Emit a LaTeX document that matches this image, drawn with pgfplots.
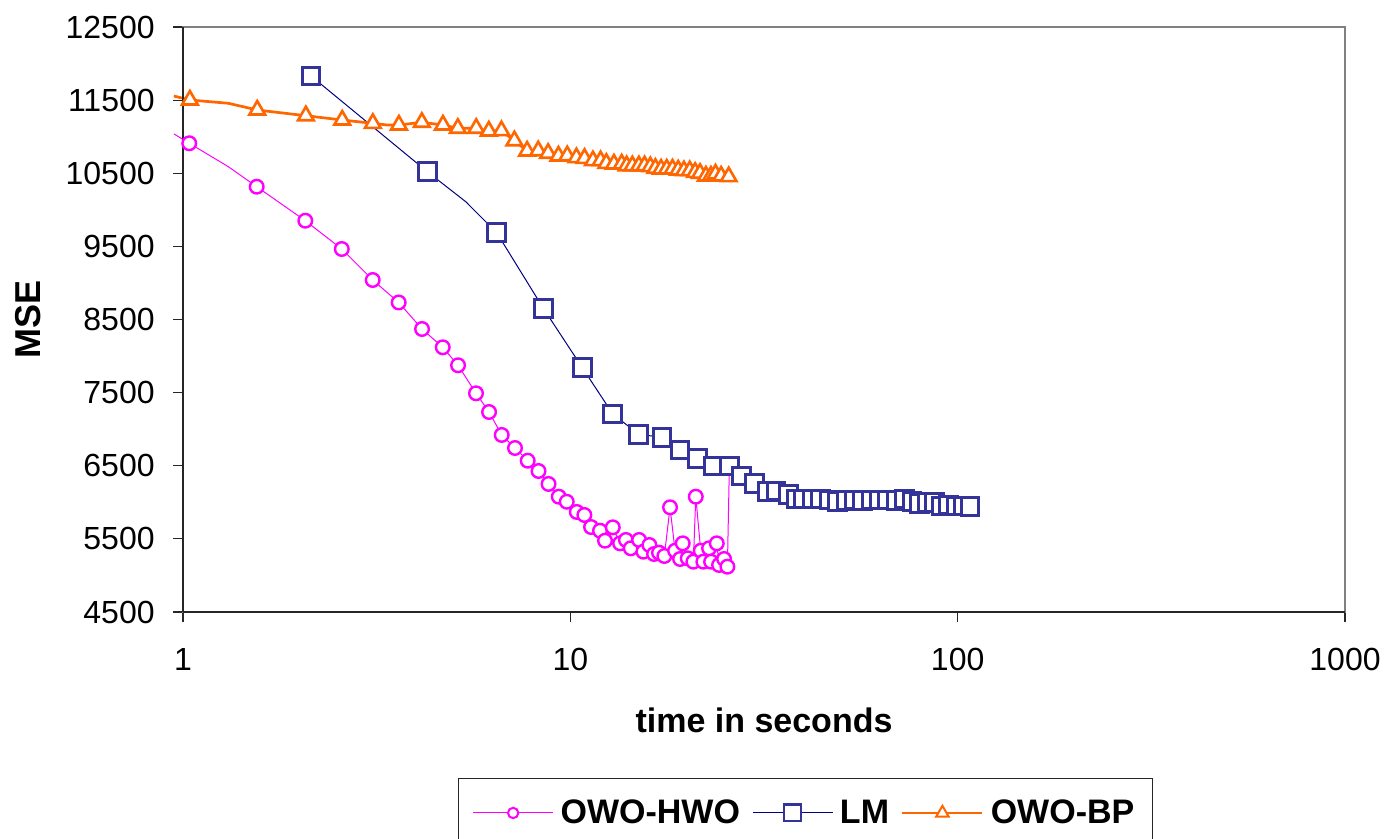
\documentclass[border=0pt]{standalone}
\usepackage{pgfplots}
\pgfplotsset{compat=1.18}
\usepackage{fontspec}
\setmainfont{Liberation Sans}
\definecolor{owohwo}{HTML}{FF00FF}
\definecolor{lmline}{HTML}{000080}
\definecolor{lmmark}{HTML}{333399}
\definecolor{owobp}{HTML}{FF6600}
\begin{document}
\begin{tikzpicture}
\begin{axis}[
  at={(91.5bp,113.5bp)}, anchor=south west,
  scale only axis, width=581bp, height=292.5bp,
  xmode=log, xmin=1, xmax=1000, ymin=4500, ymax=12500,
  xtick={1,10,100,1000}, xticklabels={1,10,100,1000},
  ytick={4500,5500,6500,7500,8500,9500,10500,11500,12500},
  yticklabels={4500,5500,6500,7500,8500,9500,10500,11500,12500},
  scaled ticks=false, scaled y ticks=false,
  xminorticks=false, yminorticks=false,
  tick align=outside, tick pos=left,
  major tick length=5bp,
  tick style={black!85, line width=0.6bp},
  axis line style={draw=gray, line width=1.35bp},
  ticklabel style={font=\fontsize{16bp}{19bp}\selectfont},
  yticklabel style={anchor=east, inner sep=0pt, xshift=-9bp},
  xticklabel style={anchor=north, inner sep=0pt, yshift=-13bp},
  xlabel={time in seconds},
  xlabel style={at={(axis description cs:0.5,-0.2068)}, anchor=base, font=\bfseries\fontsize{17bp}{20bp}\selectfont},
  ylabel={MSE},
  ylabel style={at={(axis description cs:-0.1225,0.5)}, anchor=base, font=\bfseries\fontsize{18bp}{21bp}\selectfont},
  clip=false,
  legend style={
    at={(axis description cs:0.2367,-0.2838)}, anchor=north west,
    draw=black!85, line width=0.6bp,
    inner xsep=7bp, inner ysep=8.5bp,
    font=\bfseries\fontsize{17bp}{20bp}\selectfont,
    /tikz/every odd column/.append style={column sep=1.5bp},
    /tikz/every even column/.append style={column sep=4bp},
  },
  legend columns=-1,
  legend image code/.code={\draw[mark repeat=2,mark phase=2,#1] plot coordinates {(0bp,0bp) (20bp,0bp) (40bp,0bp)};},
]
% OWO-HWO
\addplot[forget plot, no markers, owohwo, line width=0.5bp] coordinates {
(0.948,11037) (1.038,10910) (1.309,10590) (1.550,10316) (2.069,9851) (2.570,9464) (3.089,9040) (3.605,8733) (4.141,8370) (4.684,8120) (5.130,7874) (5.708,7491) (6.168,7235) (6.651,6921) (7.197,6743) (7.763,6569) (8.277,6428) (8.785,6251) (9.335,6077) (9.789,6008) (10.39,5868) (10.87,5827) (11.31,5662) (11.93,5612) (12.29,5475) (12.87,5658) (13.44,5439) (13.92,5485) (14.32,5371) (15.05,5485) (15.44,5325) (16.00,5416) (16.45,5293) (16.94,5311) (17.49,5266) (18.09,5932) (18.64,5338) (19.20,5225) (19.51,5439) (20.10,5234) (20.78,5188) (21.08,6077) (21.71,5338) (22.05,5188) (22.81,5371) (23.09,5188) (23.88,5439) (24.21,5143) (24.94,5225) (25.44,5120) (25.74,6497)
};
\addplot[forget plot, only marks, mark=*, mark size=3.4bp, mark options={draw=owohwo, fill=white, line width=1.2bp}] coordinates {
(1.038,10910) (1.550,10316) (2.069,9851) (2.570,9464) (3.089,9040) (3.605,8733) (4.141,8370) (4.684,8120) (5.130,7874) (5.708,7491) (6.168,7235) (6.651,6921) (7.197,6743) (7.763,6569) (8.277,6428) (8.785,6251) (9.335,6077) (9.789,6008) (10.39,5868) (10.87,5827) (11.31,5662) (11.93,5612) (12.29,5475) (12.87,5658) (13.44,5439) (13.92,5485) (14.32,5371) (15.05,5485) (15.44,5325) (16.00,5416) (16.45,5293) (16.94,5311) (17.49,5266) (18.09,5932) (18.64,5338) (19.20,5225) (19.51,5439) (20.10,5234) (20.78,5188) (21.08,6077) (21.71,5338) (22.05,5188) (22.81,5371) (23.09,5188) (23.88,5439) (24.21,5143) (24.94,5225) (25.44,5120) (25.74,6497)
};
% LM
\addplot[forget plot, no markers, lmline, line width=0.5bp] coordinates {
(2.141,11830) (4.274,10521) (5.370,10111) (6.456,9687) (8.517,8653) (10.74,7841) (12.87,7208) (15.02,6930) (17.25,6889) (19.20,6715) (21.33,6602) (23.39,6497) (25.74,6497) (27.71,6360) (29.87,6260) (32.33,6145) (33.97,6155) (36.54,6110) (38.27,6045) (39.96,6045) (42.02,6045) (44.32,6045) (46.64,6032) (49.03,6008) (51.51,6022) (54.13,6032) (56.89,6022) (59.76,6032) (62.80,6032) (66.01,6032) (69.34,6022) (72.87,6045) (76.14,6008) (79.66,5987) (83.24,5995) (87.09,5995) (90.60,5950) (94.62,5963) (99.05,5950) (103.1,5950) (107.6,5940)
};
\addplot[forget plot, only marks, mark=square*, mark size=4.4bp, mark options={draw=lmmark, fill=white, line width=1.5bp}] coordinates {
(2.141,11830) (4.274,10521) (6.456,9687) (8.517,8653) (10.74,7841) (12.87,7208) (15.02,6930) (17.25,6889) (19.20,6715) (21.33,6602) (23.39,6497) (25.74,6497) (27.71,6360) (29.87,6260) (32.33,6145) (33.97,6155) (36.54,6110) (38.27,6045) (39.96,6045) (42.02,6045) (44.32,6045) (46.64,6032) (49.03,6008) (51.51,6022) (54.13,6032) (56.89,6022) (59.76,6032) (62.80,6032) (66.01,6032) (69.34,6022) (72.87,6045) (76.14,6008) (79.66,5987) (83.24,5995) (87.09,5995) (90.60,5950) (94.62,5963) (99.05,5950) (103.1,5950) (107.6,5940)
};
% OWO-BP
\addplot[forget plot, no markers, owobp, line width=1.35bp] coordinates {
(0.947,11556) (1.042,11502) (1.309,11457) (1.555,11365) (2.076,11287) (2.577,11228) (3.091,11183) (3.36,11160) (3.610,11160) (4.137,11197) (4.690,11160) (5.124,11115) (5.715,11115) (6.160,11078) (6.639,11082) (7.172,10945) (7.735,10804) (8.262,10808) (8.764,10773) (9.318,10736) (9.818,10740) (10.37,10713) (10.88,10704) (11.44,10672) (11.97,10672) (12.39,10636) (12.96,10627) (13.57,10627) (13.98,10603) (14.46,10603) (15.03,10603) (15.55,10603) (16.09,10590) (16.58,10568) (17.15,10558) (17.74,10558) (18.36,10558) (18.99,10545) (19.65,10535) (20.34,10535) (21.00,10513) (21.62,10500) (22.39,10462) (23.06,10462) (23.70,10490) (24.51,10462) (25.64,10453)
};
\addplot[forget plot, only marks, mark=triangle*, mark size=4.5bp, mark options={draw=owobp, fill=white, line width=1.3bp}] coordinates {
(1.042,11502) (1.555,11365) (2.076,11287) (2.577,11228) (3.091,11183) (3.610,11160) (4.137,11197) (4.690,11160) (5.124,11115) (5.715,11115) (6.160,11078) (6.639,11082) (7.172,10945) (7.735,10804) (8.262,10808) (8.764,10773) (9.318,10736) (9.818,10740) (10.37,10713) (10.88,10704) (11.44,10672) (11.97,10672) (12.39,10636) (12.96,10627) (13.57,10627) (13.98,10603) (14.46,10603) (15.03,10603) (15.55,10603) (16.09,10590) (16.58,10568) (17.15,10558) (17.74,10558) (18.36,10558) (18.99,10545) (19.65,10535) (20.34,10535) (21.00,10513) (21.62,10500) (22.39,10462) (23.06,10462) (23.70,10490) (24.51,10462) (25.64,10453)
};
% axis lines (left and bottom dark)
\draw[black!85, line width=1bp] (rel axis cs:0,1) -- (rel axis cs:0,0);
\draw[black!85, line width=0.7bp] (rel axis cs:0,0) -- (rel axis cs:1,0);
% legend
\addlegendimage{owohwo, line width=0.5bp, mark=*, mark size=2.6bp, mark options={draw=owohwo, fill=white, line width=1bp}}
\addlegendentry{OWO-HWO}
\addlegendimage{lmline, line width=0.5bp, mark=square*, mark size=4.2bp, mark options={draw=lmmark, fill=white, line width=1.1bp}}
\addlegendentry{LM}
\addlegendimage{owobp, line width=1.35bp, mark=triangle*, mark size=3.6bp, mark options={draw=owobp, fill=white, line width=1bp}}
\addlegendentry{OWO-BP}
\end{axis}
\pgfresetboundingbox
\path[use as bounding box] (0,0) rectangle (694bp,419.5bp);
\end{tikzpicture}
\end{document}
